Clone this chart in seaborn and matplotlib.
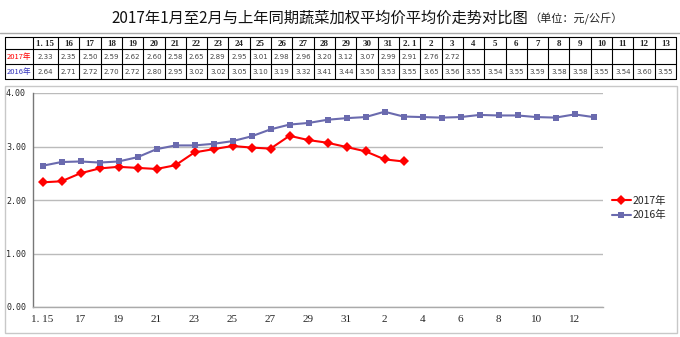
import numpy as np
import pandas as pd
import matplotlib
matplotlib.use("Agg")
import matplotlib.pyplot as plt
from matplotlib.lines import Line2D
from matplotlib.patches import Rectangle
import seaborn as sns

# ---------------- data ----------------
categories = ["1.15", "16", "17", "18", "19", "20", "21", "22", "23", "24", "25", "26", "27",
              "28", "29", "30", "31", "2.1", "2", "3", "4", "5", "6", "7", "8", "9", "10",
              "11", "12", "13"]
values_2017 = [2.33, 2.35, 2.50, 2.59, 2.62, 2.60, 2.58, 2.65, 2.89, 2.95, 3.01, 2.98, 2.96,
               3.20, 3.12, 3.07, 2.99, 2.91, 2.76, 2.72]
values_2016 = [2.64, 2.71, 2.72, 2.70, 2.72, 2.80, 2.95, 3.02, 3.02, 3.05, 3.10, 3.19, 3.32,
               3.41, 3.44, 3.50, 3.53, 3.55, 3.65, 3.56, 3.55, 3.54, 3.55, 3.59, 3.58, 3.58,
               3.55, 3.54, 3.60, 3.55]
x_tick_labels = ["1.15", "17", "19", "21", "23", "25", "27", "29", "31", "2", "4", "6", "8",
                 "10", "12"]
y_tick_labels = ["0.00", "1.00", "2.00", "3.00", "4.00"]
series_names = ["2017年", "2016年"]
title_main = "2017年1月至2月与上年同期蔬菜加权平均价平均价走势对比图"
title_unit = "（单位：元/公斤）"

RED = "#FF0000"
BLUE = "#6A6AAE"

sns.set_style("white")
plt.rcParams["font.family"] = ["Noto Sans CJK SC", "DejaVu Sans"]

W, H = 680, 337
fig = plt.figure(figsize=(W / 100, H / 100), dpi=100)


def fx(x):
    return x / W


def fy(y):
    return 1 - y / H


# ---------------- title ----------------
fig.text(fx(320), fy(18), title_main, ha="center", va="center", fontsize=11, color="#111111")
fig.text(fx(576), fy(19), title_unit, ha="center", va="center", fontsize=8, color="#222222")
fig.add_artist(Line2D([fx(0), fx(680)], [fy(33), fy(33)], transform=fig.transFigure,
                      color="#aaaaaa", lw=1))

# ---------------- table ----------------
col_edges = [5, 33, 58]
cw = (676 - 58) / 29
for k in range(1, 30):
    col_edges.append(58 + cw * k)
row_edges = [37, 49, 64, 79]
for y in row_edges:
    fig.add_artist(Line2D([fx(col_edges[0]), fx(col_edges[-1])], [fy(y), fy(y)],
                          transform=fig.transFigure, color="black", lw=0.8))
for x in col_edges:
    fig.add_artist(Line2D([fx(x), fx(x)], [fy(row_edges[0]), fy(row_edges[-1])],
                          transform=fig.transFigure, color="black", lw=0.8))

serif = ["Liberation Serif", "DejaVu Serif"]
for i, c in enumerate(categories):
    cx = (col_edges[i + 1] + col_edges[i + 2]) / 2
    fig.text(fx(cx), fy(43.5), c.replace(".", ". ") if c == "1.15" or c == "2.1" else c,
             ha="center", va="center", fontsize=6.5, fontweight="bold", family=serif)
    if i < len(values_2017):
        fig.text(fx(cx), fy(57), f"{values_2017[i]:.2f}", ha="center", va="center",
                 fontsize=5, color="#444444", family=["Liberation Sans Narrow", "DejaVu Sans"])
    fig.text(fx(cx), fy(72), f"{values_2016[i]:.2f}", ha="center", va="center",
             fontsize=5, color="#444444", family=["Liberation Sans Narrow", "DejaVu Sans"])
fig.text(fx(19), fy(57), series_names[0], ha="center", va="center", fontsize=5.5, color=RED)
fig.text(fx(19), fy(72), series_names[1], ha="center", va="center", fontsize=5.5, color="#3333BB")

# ---------------- chart frame ----------------
fig.add_artist(Rectangle((fx(5), fy(333)), fx(672), (333 - 86) / H, transform=fig.transFigure,
                         fill=False, edgecolor="#c8c8c8", lw=1))

# ---------------- chart ----------------
left, right, top, bottom = 33, 603, 93, 307
ax = fig.add_axes([fx(left), fy(bottom), fx(right - left), (bottom - top) / H])

n = len(categories)
df = pd.DataFrame({
    "pos": np.concatenate([np.arange(len(values_2017)) + 0.5, np.arange(n) + 0.5]),
    "price": values_2017 + values_2016,
    "series": [series_names[0]] * len(values_2017) + [series_names[1]] * n,
})

sns.lineplot(data=df, x="pos", y="price", hue="series", style="series",
             palette={series_names[0]: RED, series_names[1]: BLUE},
             markers={series_names[0]: "D", series_names[1]: "s"},
             dashes=False, markersize=5, linewidth=1.5, markeredgewidth=0,
             ax=ax, legend=True)

ax.set_xlim(0, n)
ax.set_ylim(0, 4)
ax.set_xlabel("")
ax.set_ylabel("")
ax.set_yticks([0, 1, 2, 3, 4])
ax.set_yticklabels(y_tick_labels, family=["DejaVu Sans Mono"], fontsize=6)
ax.set_xticks(np.arange(0, n, 2) + 0.5)
ax.set_xticklabels([lbl.replace(".", ". ") for lbl in x_tick_labels], family=serif, fontsize=8)
ax.set_xticks(np.arange(0, n + 1), minor=True)
ax.tick_params(axis="x", which="major", length=0, pad=6)
ax.tick_params(axis="x", which="minor", length=3, color="#888888", direction="out")
ax.tick_params(axis="y", length=3, color="#888888", direction="out", pad=2)
ax.grid(axis="y", color="#bbbbbb", lw=1)
ax.grid(axis="x", visible=False)
for s in ["top", "right"]:
    ax.spines[s].set_visible(False)
ax.spines["left"].set_color("#777777")
ax.spines["bottom"].set_color("#aaaaaa")
ax.spines["left"].set_linewidth(1)
ax.spines["bottom"].set_linewidth(1)
ax.set_axisbelow(True)

handles, labels = ax.get_legend_handles_labels()
ax.legend(handles=handles, labels=labels, loc="center left",
          bbox_to_anchor=(fx(612), fy(208)), bbox_transform=fig.transFigure,
          frameon=False, fontsize=7.5, handlelength=1.8, handletextpad=0.2,
          labelspacing=0.45, borderpad=0, borderaxespad=0)

fig.savefig("out.png", dpi=100)
